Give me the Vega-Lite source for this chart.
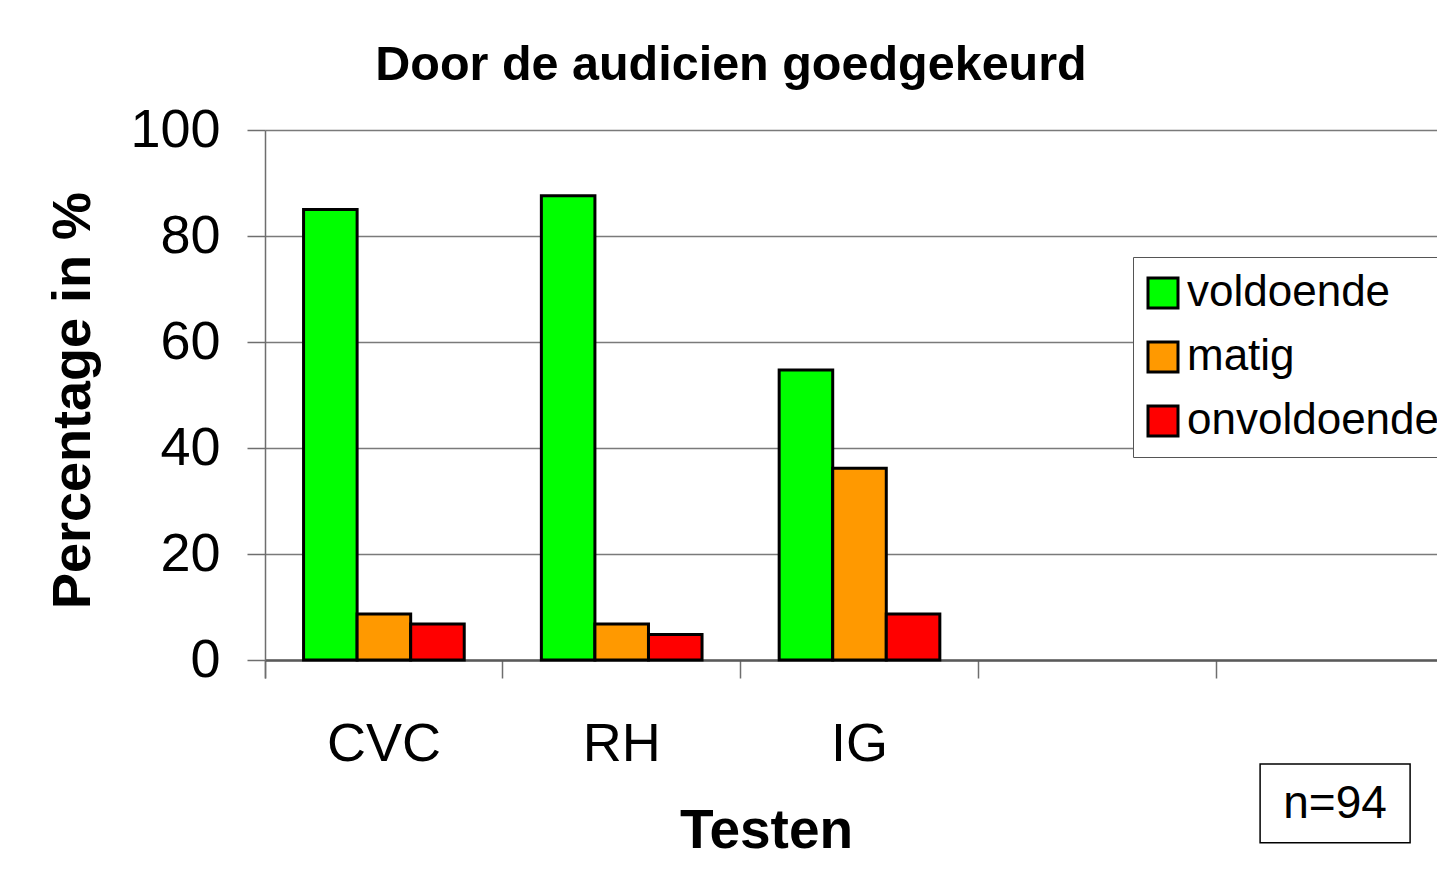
{
  "$schema": "https://vega.github.io/schema/vega-lite/v6.json",
  "autosize": "none",
  "width": 1172,
  "height": 530,
  "padding": {"left": 265, "top": 130, "right": 0, "bottom": 216},
  "background": "white",
  "config": {
    "font": "Liberation Sans",
    "view": {"stroke": null},
    "axis": {"labelColor": "black", "titleColor": "black", "labelFont": "Liberation Sans", "titleFont": "Liberation Sans"}
  },
  "title": {
    "text": "Door de audicien goedgekeurd",
    "font": "Liberation Sans",
    "fontSize": 48.5,
    "fontWeight": "bold",
    "color": "black",
    "anchor": "middle",
    "frame": "group",
    "baseline": "alphabetic",
    "offset": 47,
    "dx": -120,
    "dy": 72
  },
  "data": {
    "values": [
      {"test": "CVC", "grade": "voldoende", "pct": 85.0},
      {"test": "CVC", "grade": "matig", "pct": 8.7},
      {"test": "CVC", "grade": "onvoldoende", "pct": 6.8},
      {"test": "RH", "grade": "voldoende", "pct": 87.6},
      {"test": "RH", "grade": "matig", "pct": 6.8},
      {"test": "RH", "grade": "onvoldoende", "pct": 4.8},
      {"test": "IG", "grade": "voldoende", "pct": 54.7},
      {"test": "IG", "grade": "matig", "pct": 36.2},
      {"test": "IG", "grade": "onvoldoende", "pct": 8.7}
    ]
  },
  "layer": [
    {
      "mark": {"type": "bar", "stroke": "black", "strokeWidth": 3},
      "encoding": {
        "x": {
          "field": "test",
          "type": "nominal",
          "sort": null,
          "scale": {"domain": ["CVC", "RH", "IG", " ", "  "], "range": [0, 1189], "paddingInner": 0, "paddingOuter": 0},
          "axis": {
            "title": "Testen",
            "titleFontSize": 55,
            "titleFontWeight": "bold",
            "titleX": 501,
            "titleY": 187,
            "titleBaseline": "alphabetic",
            "titleAlign": "center",
            "labelAngle": 0,
            "labelFontSize": 54,
            "labelBaseline": "alphabetic",
            "labelPadding": 82,
            "bandPosition": 0,
            "tickExtra": true,
            "tickSize": 18,
            "tickColor": "#6e6e6e",
            "tickWidth": 1.5,
            "domainColor": "#5a5a5a",
            "domainWidth": 2.5,
            "grid": false
          }
        },
        "xOffset": {
          "field": "grade",
          "type": "nominal",
          "sort": null,
          "scale": {"domain": ["voldoende", "matig", "onvoldoende"], "paddingInner": 0, "paddingOuter": 0.72}
        },
        "y": {
          "field": "pct",
          "type": "quantitative",
          "scale": {"domain": [0, 100], "nice": false},
          "axis": {
            "title": "Percentage in %",
            "titleFontSize": 54,
            "titleFontWeight": "bold",
            "titleX": -176,
            "titleY": 270,
            "titleBaseline": "alphabetic",
            "titleAlign": "center",
            "titleAngle": 270,
            "values": [0, 20, 40, 60, 80, 100],
            "labelFontSize": 54,
            "labelPadding": 27,
            "tickSize": 18,
            "tickColor": "#6e6e6e",
            "tickWidth": 1.5,
            "domainColor": "#6e6e6e",
            "domainWidth": 1.5,
            "grid": true,
            "gridColor": "#7a7a7a",
            "gridWidth": 1.5
          }
        },
        "color": {
          "field": "grade",
          "type": "nominal",
          "sort": null,
          "scale": {"domain": ["voldoende", "matig", "onvoldoende"], "range": ["#00ff00", "#ff9900", "#ff0000"]},
          "legend": {
            "title": null,
            "orient": "none",
            "legendX": 868,
            "legendY": 127,
            "fillColor": "white",
            "strokeColor": "#555555",
            "padding": 14,
            "rowPadding": 20,
            "labelFontSize": 44,
            "labelFont": "Liberation Sans",
            "labelColor": "black",
            "labelOffset": 2,
            "labelLimit": 0,
            "symbolOffset": -6,
            "symbolType": "square",
            "symbolSize": 900,
            "symbolStrokeColor": "black",
            "symbolStrokeWidth": 3,
            "symbolOpacity": 1
          }
        }
      }
    },
    {
      "data": {"values": [{}]},
      "mark": {"type": "bar", "width": 150, "fill": "white", "stroke": "black", "strokeWidth": 1.5},
      "encoding": {
        "x": {"datum": "  ", "type": "nominal"},
        "y": {"datum": -19.6, "type": "quantitative"},
        "y2": {"datum": -34.5}
      }
    },
    {
      "data": {"values": [{}]},
      "mark": {"type": "text", "fontSize": 46, "font": "Liberation Sans", "color": "black", "baseline": "middle", "align": "center"},
      "encoding": {
        "x": {"datum": "  ", "type": "nominal"},
        "y": {"datum": -27.2, "type": "quantitative"},
        "text": {"value": "n=94"}
      }
    }
  ]
}
